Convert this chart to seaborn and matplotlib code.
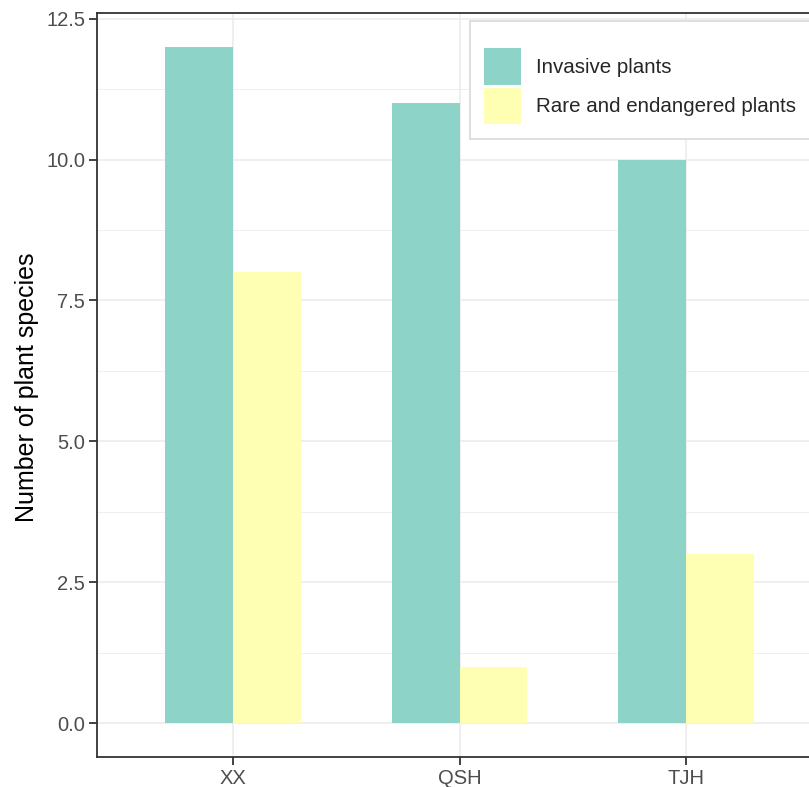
import matplotlib
matplotlib.use('Agg')
import matplotlib.pyplot as plt
from matplotlib.patches import Rectangle
import pandas as pd
import seaborn as sns

# values
sites = ['XX', 'QSH', 'TJH']
invasive = [12, 11, 10]
rare = [8, 1, 3]
groups = ['Invasive plants', 'Rare and endangered plants']
colors = ['#8DD3C7', '#FFFFB3']

data = pd.DataFrame({
    'site': sites * 2,
    'count': invasive + rare,
    'group': [groups[0]] * 3 + [groups[1]] * 3,
})

sns.set_style('white')
plt.rcParams['font.family'] = ['Liberation Sans', 'DejaVu Sans']

fig = plt.figure(figsize=(8.09, 7.87), dpi=100)
ax = fig.add_axes([97 / 809, 1 - 757 / 787, (822 - 97) / 809, (757 - 13) / 787])

sns.barplot(data=data, x='site', y='count', hue='group', order=sites,
            hue_order=groups, palette=colors, width=0.6, gap=0,
            saturation=1, linewidth=0, ax=ax, zorder=3)

ax.set_xlim(-0.6, 2.6)
ax.set_ylim(-0.6, 12.6)
ax.set_yticks([0, 2.5, 5, 7.5, 10, 12.5])
ax.set_yticklabels(['0.0', '2.5', '5.0', '7.5', '10.0', '12.5'])
ax.set_yticks([1.25, 3.75, 6.25, 8.75, 11.25], minor=True)

ax.grid(True, which='major', color='#EBEBEB', linewidth=1.1, zorder=0)
ax.grid(True, which='minor', axis='y', color='#EBEBEB', linewidth=0.55, zorder=0)
ax.set_axisbelow(True)

for side in ['left', 'bottom', 'top', 'right']:
    ax.spines[side].set_color('#333333')
    ax.spines[side].set_linewidth(1.3)

ax.tick_params(axis='both', which='major', length=5.5, width=1.3, color='#333333',
               labelsize=14.5, labelcolor='#4D4D4D', pad=3, left=True, bottom=True)
ax.tick_params(axis='both', which='minor', length=0)

ax.set_xlabel('')
ax.set_ylabel('Number of plant species', fontsize=18, color='black')
ax.yaxis.set_label_coords(-0.08, 0.497)

ax.legend_.remove()
handles = [Rectangle((0, 0), 1, 1, facecolor=c, edgecolor='none') for c in colors]
leg = fig.legend(handles, groups, loc='upper left',
                 bbox_to_anchor=(474 / 809, 1 - 38 / 787), frameon=False,
                 fontsize=14.8, handlelength=1.8, handleheight=2.35,
                 labelspacing=0.14, handletextpad=0.7, borderpad=0)
fig.patches.append(Rectangle((470 / 809, 1 - 139 / 787), 0.5, (139 - 21) / 787,
                             transform=fig.transFigure, facecolor='white',
                             edgecolor='#D9D9D9', linewidth=1.2, zorder=5))
leg.set_zorder(6)

fig.savefig('out.png', dpi=100)
